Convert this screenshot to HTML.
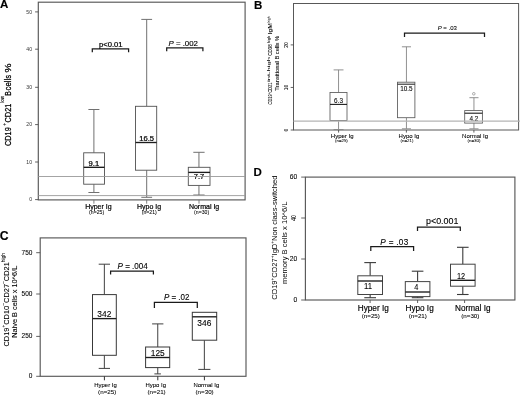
<!DOCTYPE html>
<html lang="en"><head><meta charset="utf-8"><title>Figure</title>
<style>
html,body{margin:0;padding:0;background:#fff;}
body{width:520px;height:398px;overflow:hidden;}
svg{display:block;font-family:"Liberation Sans",Arial,Helvetica,sans-serif;filter:blur(0.3px);}
</style></head><body>
<svg width="520" height="398" viewBox="0 0 520 398">
<rect x="0" y="0" width="520" height="398" fill="#ffffff"/>
<text x="0" y="8.2" font-size="11.5" text-anchor="start" font-weight="bold" fill="#000" stroke="#000" stroke-width="0.138">A</text>
<rect x="38.3" y="2.2" width="206.8" height="197.7" fill="none" stroke="#585858" stroke-width="1.15"/>
<line x1="35.099999999999994" y1="11.9" x2="38.3" y2="11.9" stroke="#505050" stroke-width="0.9"/>
<text x="32.0" y="13.700000000000001" font-size="5.1" text-anchor="end" fill="#333" stroke="#333" stroke-width="0.0">50</text>
<line x1="35.099999999999994" y1="49.2" x2="38.3" y2="49.2" stroke="#505050" stroke-width="0.9"/>
<text x="32.0" y="51.0" font-size="5.1" text-anchor="end" fill="#333" stroke="#333" stroke-width="0.0">40</text>
<line x1="35.099999999999994" y1="87.3" x2="38.3" y2="87.3" stroke="#505050" stroke-width="0.9"/>
<text x="32.0" y="89.1" font-size="5.1" text-anchor="end" fill="#333" stroke="#333" stroke-width="0.0">30</text>
<line x1="35.099999999999994" y1="124.6" x2="38.3" y2="124.6" stroke="#505050" stroke-width="0.9"/>
<text x="32.0" y="126.39999999999999" font-size="5.1" text-anchor="end" fill="#333" stroke="#333" stroke-width="0.0">20</text>
<line x1="35.099999999999994" y1="162.0" x2="38.3" y2="162.0" stroke="#505050" stroke-width="0.9"/>
<text x="32.0" y="163.8" font-size="5.1" text-anchor="end" fill="#333" stroke="#333" stroke-width="0.0">10</text>
<line x1="35.099999999999994" y1="199.6" x2="38.3" y2="199.6" stroke="#505050" stroke-width="0.9"/>
<text x="32.0" y="201.4" font-size="5.1" text-anchor="end" fill="#333" stroke="#333" stroke-width="0.0">0</text>
<line x1="93.9" y1="109.5" x2="93.9" y2="152.8" stroke="#707070" stroke-width="1.0"/>
<line x1="88.4" y1="109.5" x2="99.4" y2="109.5" stroke="#707070" stroke-width="1.0"/>
<line x1="93.9" y1="184.2" x2="93.9" y2="192.5" stroke="#707070" stroke-width="1.0"/>
<line x1="88.4" y1="192.5" x2="99.4" y2="192.5" stroke="#707070" stroke-width="1.0"/>
<rect x="83.7" y="152.8" width="20.8" height="31.4" fill="#fff" stroke="#505050" stroke-width="0.9"/>
<line x1="83.7" y1="167.3" x2="104.5" y2="167.3" stroke="#1c1c1c" stroke-width="1.35"/>
<text x="93.9" y="166.0" font-size="7.6" text-anchor="middle" fill="#000" stroke="#000" stroke-width="0.228">9.1</text>
<line x1="146.7" y1="19.4" x2="146.7" y2="106.3" stroke="#707070" stroke-width="1.0"/>
<line x1="141.3" y1="19.4" x2="152.1" y2="19.4" stroke="#707070" stroke-width="1.0"/>
<line x1="146.7" y1="170.2" x2="146.7" y2="197.3" stroke="#707070" stroke-width="1.0"/>
<line x1="141.3" y1="197.3" x2="152.1" y2="197.3" stroke="#707070" stroke-width="1.0"/>
<rect x="135.5" y="106.3" width="21.2" height="63.9" fill="#fff" stroke="#505050" stroke-width="0.9"/>
<line x1="135.5" y1="142.5" x2="156.7" y2="142.5" stroke="#1c1c1c" stroke-width="1.35"/>
<text x="146.7" y="141.0" font-size="7.6" text-anchor="middle" fill="#000" stroke="#000" stroke-width="0.228">16.5</text>
<line x1="198.95" y1="152.3" x2="198.95" y2="167.3" stroke="#707070" stroke-width="1.0"/>
<line x1="193.3" y1="152.3" x2="204.6" y2="152.3" stroke="#707070" stroke-width="1.0"/>
<line x1="198.95" y1="185.4" x2="198.95" y2="195.0" stroke="#707070" stroke-width="1.0"/>
<line x1="193.3" y1="195.0" x2="204.6" y2="195.0" stroke="#707070" stroke-width="1.0"/>
<rect x="188.3" y="167.3" width="21.7" height="18.1" fill="#fff" stroke="#505050" stroke-width="0.9"/>
<line x1="188.3" y1="172.4" x2="210.0" y2="172.4" stroke="#1c1c1c" stroke-width="1.35"/>
<text x="198.95" y="178.6" font-size="7.6" text-anchor="middle" fill="#000" stroke="#000" stroke-width="0.228">7.7</text>
<line x1="38.3" y1="176.5" x2="245.1" y2="176.5" stroke="#9a9a9a" stroke-width="0.9"/>
<line x1="38.3" y1="195.6" x2="245.1" y2="195.6" stroke="#9a9a9a" stroke-width="0.9"/>
<polyline points="92.3,52.3 92.3,48.9 128.6,48.9 128.6,52.3" fill="none" stroke="#1a1a1a" stroke-width="1.25"/>
<text x="110.8" y="46.5" font-size="7.6" text-anchor="middle" fill="#000" stroke="#000" stroke-width="0.228">p&lt;0.01</text>
<polyline points="166.7,51.2 166.7,47.9 202.9,47.9 202.9,51.2" fill="none" stroke="#1a1a1a" stroke-width="1.25"/>
<text x="183.2" y="45.8" font-size="8.1" text-anchor="middle" textLength="29.4" lengthAdjust="spacingAndGlyphs" fill="#000" stroke="#000" stroke-width="0.162"><tspan font-style="italic">P</tspan> = .002</text>
<line x1="93.9" y1="199.9" x2="93.9" y2="203.70000000000002" stroke="#707070" stroke-width="0.9"/>
<text x="98.4" y="209.0" font-size="7.0" text-anchor="middle" fill="#000" stroke="#000" stroke-width="0.21">Hyper Ig</text>
<text x="96.6" y="214.1" font-size="4.8" text-anchor="middle" textLength="15.0" lengthAdjust="spacingAndGlyphs" fill="#000" stroke="#000" stroke-width="0.058">(n=25)</text>
<line x1="146.7" y1="199.9" x2="146.7" y2="203.70000000000002" stroke="#707070" stroke-width="0.9"/>
<text x="149.1" y="209.0" font-size="7.0" text-anchor="middle" fill="#000" stroke="#000" stroke-width="0.21">Hypo Ig</text>
<text x="149.29999999999998" y="214.1" font-size="4.8" text-anchor="middle" textLength="15.0" lengthAdjust="spacingAndGlyphs" fill="#000" stroke="#000" stroke-width="0.058">(n=21)</text>
<line x1="199" y1="199.9" x2="199" y2="203.70000000000002" stroke="#707070" stroke-width="0.9"/>
<text x="204.1" y="209.0" font-size="7.0" text-anchor="middle" fill="#000" stroke="#000" stroke-width="0.21">Normal Ig</text>
<text x="201.6" y="214.1" font-size="4.8" text-anchor="middle" textLength="15.0" lengthAdjust="spacingAndGlyphs" fill="#000" stroke="#000" stroke-width="0.058">(n=30)</text>
<text x="11.2" y="146.0" font-size="9.5" text-anchor="start" transform="rotate(-90 11.2 146.0)" textLength="18.8" lengthAdjust="spacingAndGlyphs" fill="#000" stroke="#000" stroke-width="0.266">CD19</text>
<text x="6.4" y="125.7" font-size="5.7" text-anchor="start" transform="rotate(-90 6.4 125.7)" textLength="2.7" lengthAdjust="spacingAndGlyphs" fill="#000" stroke="#000" stroke-width="0.16">+</text>
<text x="11.2" y="122.4" font-size="9.5" text-anchor="start" transform="rotate(-90 11.2 122.4)" textLength="18.7" lengthAdjust="spacingAndGlyphs" fill="#000" stroke="#000" stroke-width="0.266">CD21</text>
<text x="4.4" y="102.8" font-size="5.4" text-anchor="start" transform="rotate(-90 4.4 102.8)" textLength="6.8" lengthAdjust="spacingAndGlyphs" fill="#000" stroke="#000" stroke-width="0.151">low</text>
<text x="11.2" y="95.7" font-size="9.5" text-anchor="start" transform="rotate(-90 11.2 95.7)" textLength="4.5" lengthAdjust="spacingAndGlyphs" fill="#000" stroke="#000" stroke-width="0.266">B</text>
<text x="11.2" y="90.4" font-size="9.5" text-anchor="start" transform="rotate(-90 11.2 90.4)" textLength="15.4" lengthAdjust="spacingAndGlyphs" fill="#000" stroke="#000" stroke-width="0.266">cells</text>
<text x="11.2" y="72.6" font-size="9.5" text-anchor="start" transform="rotate(-90 11.2 72.6)" textLength="9.1" lengthAdjust="spacingAndGlyphs" fill="#000" stroke="#000" stroke-width="0.266">%</text>
<text x="253.9" y="9.3" font-size="11.5" text-anchor="start" font-weight="bold" fill="#000" stroke="#000" stroke-width="0.138">B</text>
<rect x="293.5" y="3.5" width="225.1" height="126.5" fill="none" stroke="#585858" stroke-width="1.0"/>
<line x1="290.7" y1="44.9" x2="293.5" y2="44.9" stroke="#505050" stroke-width="0.9"/>
<text x="288.3" y="44.9" font-size="5.0" text-anchor="middle" transform="rotate(-90 288.3 44.9)" fill="#000" stroke="#000" stroke-width="0.06">20</text>
<line x1="290.7" y1="87.45" x2="293.5" y2="87.45" stroke="#505050" stroke-width="0.9"/>
<text x="288.3" y="87.45" font-size="5.0" text-anchor="middle" transform="rotate(-90 288.3 87.45)" fill="#000" stroke="#000" stroke-width="0.06">10</text>
<line x1="290.7" y1="130.0" x2="293.5" y2="130.0" stroke="#505050" stroke-width="0.9"/>
<text x="288.3" y="130.0" font-size="5.0" text-anchor="middle" transform="rotate(-90 288.3 130.0)" fill="#000" stroke="#000" stroke-width="0.06">0</text>
<line x1="338.55" y1="69.9" x2="338.55" y2="92.5" stroke="#858585" stroke-width="0.9"/>
<line x1="333.6" y1="69.9" x2="343.5" y2="69.9" stroke="#858585" stroke-width="0.9"/>
<line x1="338.55" y1="120.5" x2="338.55" y2="129.6" stroke="#858585" stroke-width="0.9"/>
<line x1="333.6" y1="129.6" x2="343.5" y2="129.6" stroke="#858585" stroke-width="0.9"/>
<rect x="330.0" y="92.5" width="17.0" height="28.0" fill="#fff" stroke="#5a5a5a" stroke-width="0.85"/>
<line x1="330.0" y1="104.4" x2="347.0" y2="104.4" stroke="#1c1c1c" stroke-width="1.1"/>
<text x="338.55" y="102.9" font-size="6.4" text-anchor="middle" fill="#000" stroke="#000" stroke-width="0.077">6.3</text>
<line x1="406.45" y1="46.8" x2="406.45" y2="82.2" stroke="#858585" stroke-width="0.9"/>
<line x1="401.9" y1="46.8" x2="411.0" y2="46.8" stroke="#858585" stroke-width="0.9"/>
<line x1="406.45" y1="117.7" x2="406.45" y2="128.8" stroke="#858585" stroke-width="0.9"/>
<line x1="401.9" y1="128.8" x2="411.0" y2="128.8" stroke="#858585" stroke-width="0.9"/>
<rect x="397.5" y="82.2" width="17.4" height="35.5" fill="#fff" stroke="#5a5a5a" stroke-width="0.85"/>
<line x1="397.5" y1="84.2" x2="414.9" y2="84.2" stroke="#1c1c1c" stroke-width="1.0"/>
<text x="406.45" y="90.6" font-size="6.4" text-anchor="middle" fill="#000" stroke="#000" stroke-width="0.077">10.5</text>
<line x1="473.95" y1="97.7" x2="473.95" y2="110.6" stroke="#858585" stroke-width="0.9"/>
<line x1="469.4" y1="97.7" x2="478.5" y2="97.7" stroke="#858585" stroke-width="0.9"/>
<line x1="473.95" y1="123.1" x2="473.95" y2="128.8" stroke="#858585" stroke-width="0.9"/>
<line x1="469.4" y1="128.8" x2="478.5" y2="128.8" stroke="#858585" stroke-width="0.9"/>
<rect x="464.7" y="110.6" width="17.7" height="12.5" fill="#fff" stroke="#5a5a5a" stroke-width="0.85"/>
<line x1="464.7" y1="113.2" x2="482.4" y2="113.2" stroke="#1c1c1c" stroke-width="1.1"/>
<text x="473.95" y="121.2" font-size="6.4" text-anchor="middle" fill="#000" stroke="#000" stroke-width="0.077">4.2</text>
<circle cx="473.8" cy="93.8" r="1.3" fill="none" stroke="#777" stroke-width="0.6"/>
<line x1="293.5" y1="121.2" x2="520" y2="121.2" stroke="#b4b4b4" stroke-width="1.3"/>
<polyline points="404.5,36.9 404.5,33.2 484.5,33.2 484.5,36.9" fill="none" stroke="#1a1a1a" stroke-width="1.25"/>
<text x="447.3" y="30.4" font-size="6.0" text-anchor="middle" fill="#000" stroke="#000" stroke-width="0.072"><tspan font-style="italic">P</tspan> = .03</text>
<line x1="338.6" y1="130.0" x2="338.6" y2="132.6" stroke="#505050" stroke-width="0.9"/>
<text x="342.2" y="138.2" font-size="6.0" text-anchor="middle" fill="#000" stroke="#000" stroke-width="0.072">Hyper Ig</text>
<text x="341.4" y="142.0" font-size="4.4" text-anchor="middle" fill="#000" stroke="#000" stroke-width="0.053">(n=25)</text>
<line x1="406.4" y1="130.0" x2="406.4" y2="132.6" stroke="#505050" stroke-width="0.9"/>
<text x="408.9" y="138.2" font-size="6.0" text-anchor="middle" fill="#000" stroke="#000" stroke-width="0.072">Hypo Ig</text>
<text x="407" y="142.0" font-size="4.4" text-anchor="middle" fill="#000" stroke="#000" stroke-width="0.053">(n=21)</text>
<line x1="473.9" y1="130.0" x2="473.9" y2="132.6" stroke="#505050" stroke-width="0.9"/>
<text x="475.1" y="138.2" font-size="6.0" text-anchor="middle" fill="#000" stroke="#000" stroke-width="0.072">Normal Ig</text>
<text x="474" y="142.0" font-size="4.4" text-anchor="middle" fill="#000" stroke="#000" stroke-width="0.053">(n=30)</text>
<text x="271.8" y="104.5" font-size="6.0" text-anchor="start" transform="rotate(-90 271.8 104.5)" textLength="10.2" lengthAdjust="spacingAndGlyphs" fill="#000" stroke="#000" stroke-width="0.072">CD19</text>
<text x="270.2" y="94.1" font-size="4.2" text-anchor="start" transform="rotate(-90 270.2 94.1)" textLength="1.3" lengthAdjust="spacingAndGlyphs" fill="#000" stroke="#000" stroke-width="0.05">+</text>
<text x="271.8" y="92.6" font-size="6.0" text-anchor="start" transform="rotate(-90 271.8 92.6)" textLength="10.0" lengthAdjust="spacingAndGlyphs" fill="#000" stroke="#000" stroke-width="0.072">CD21</text>
<text x="270.2" y="82.0" font-size="4.2" text-anchor="start" transform="rotate(-90 270.2 82.0)" textLength="25.0" lengthAdjust="spacingAndGlyphs" fill="#000" stroke="#000" stroke-width="0.05">int-high</text>
<text x="271.8" y="55.8" font-size="6.0" text-anchor="start" transform="rotate(-90 271.8 55.8)" textLength="11.6" lengthAdjust="spacingAndGlyphs" fill="#000" stroke="#000" stroke-width="0.072">CD38</text>
<text x="270.2" y="43.2" font-size="4.2" text-anchor="start" transform="rotate(-90 270.2 43.2)" textLength="7.4" lengthAdjust="spacingAndGlyphs" fill="#000" stroke="#000" stroke-width="0.05">high</text>
<text x="271.8" y="34.5" font-size="6.0" text-anchor="start" transform="rotate(-90 271.8 34.5)" textLength="11.3" lengthAdjust="spacingAndGlyphs" fill="#000" stroke="#000" stroke-width="0.072">IgM</text>
<text x="270.2" y="22.6" font-size="4.2" text-anchor="start" transform="rotate(-90 270.2 22.6)" textLength="6.1" lengthAdjust="spacingAndGlyphs" fill="#000" stroke="#000" stroke-width="0.05">high</text>
<text x="279.0" y="90.7" font-size="5.8" text-anchor="start" transform="rotate(-90 279.0 90.7)" textLength="54.8" lengthAdjust="spacingAndGlyphs" fill="#000" stroke="#000" stroke-width="0.07">Transitional B cells %</text>
<text x="-0.2" y="240.3" font-size="12.2" text-anchor="start" font-weight="bold" fill="#000" stroke="#000" stroke-width="0.146">C</text>
<rect x="40.2" y="237.9" width="205.8" height="138.4" fill="none" stroke="#585858" stroke-width="1.15"/>
<line x1="36.2" y1="252.7" x2="40.2" y2="252.7" stroke="#505050" stroke-width="0.9"/>
<text x="32.4" y="254.6" font-size="6.5" text-anchor="end" fill="#000" stroke="#000" stroke-width="0.078">750</text>
<line x1="36.2" y1="294.0" x2="40.2" y2="294.0" stroke="#505050" stroke-width="0.9"/>
<text x="32.4" y="295.9" font-size="6.5" text-anchor="end" fill="#000" stroke="#000" stroke-width="0.078">500</text>
<line x1="36.2" y1="336.4" x2="40.2" y2="336.4" stroke="#505050" stroke-width="0.9"/>
<text x="32.4" y="338.29999999999995" font-size="6.5" text-anchor="end" fill="#000" stroke="#000" stroke-width="0.078">250</text>
<line x1="36.2" y1="376.3" x2="40.2" y2="376.3" stroke="#505050" stroke-width="0.9"/>
<text x="32.4" y="378.2" font-size="6.5" text-anchor="end" fill="#000" stroke="#000" stroke-width="0.078">0</text>
<line x1="104.35" y1="264.2" x2="104.35" y2="294.6" stroke="#404040" stroke-width="1.0"/>
<line x1="98.7" y1="264.2" x2="110.0" y2="264.2" stroke="#404040" stroke-width="1.0"/>
<line x1="104.35" y1="355.3" x2="104.35" y2="368.4" stroke="#404040" stroke-width="1.0"/>
<line x1="98.7" y1="368.4" x2="110.0" y2="368.4" stroke="#404040" stroke-width="1.0"/>
<rect x="92.5" y="294.6" width="23.8" height="60.7" fill="#fff" stroke="#383838" stroke-width="1.0"/>
<line x1="92.5" y1="318.6" x2="116.3" y2="318.6" stroke="#1c1c1c" stroke-width="1.35"/>
<text x="104.35" y="316.8" font-size="8.4" text-anchor="middle" fill="#000" stroke="#000" stroke-width="0.101">342</text>
<line x1="157.75" y1="323.9" x2="157.75" y2="347.0" stroke="#404040" stroke-width="1.0"/>
<line x1="152.1" y1="323.9" x2="163.4" y2="323.9" stroke="#404040" stroke-width="1.0"/>
<line x1="157.75" y1="367.6" x2="157.75" y2="373.9" stroke="#404040" stroke-width="1.0"/>
<line x1="154.4" y1="373.9" x2="160.9" y2="373.9" stroke="#404040" stroke-width="1.0"/>
<rect x="145.6" y="347.0" width="24.1" height="20.6" fill="#fff" stroke="#383838" stroke-width="1.0"/>
<line x1="145.6" y1="357.5" x2="169.7" y2="357.5" stroke="#1c1c1c" stroke-width="1.35"/>
<text x="157.75" y="356.2" font-size="8.4" text-anchor="middle" fill="#000" stroke="#000" stroke-width="0.101">125</text>
<line x1="204.35" y1="340.2" x2="204.35" y2="369.4" stroke="#404040" stroke-width="1.0"/>
<line x1="198.3" y1="369.4" x2="210.4" y2="369.4" stroke="#404040" stroke-width="1.0"/>
<rect x="192.3" y="312.3" width="24.4" height="27.9" fill="#fff" stroke="#383838" stroke-width="1.0"/>
<line x1="192.3" y1="316.8" x2="216.7" y2="316.8" stroke="#1c1c1c" stroke-width="1.35"/>
<text x="204.35" y="325.6" font-size="8.4" text-anchor="middle" fill="#000" stroke="#000" stroke-width="0.101">346</text>
<polyline points="110.6,274.6 110.6,271.0 153.4,271.0 153.4,274.6" fill="none" stroke="#1a1a1a" stroke-width="1.25"/>
<text x="132.7" y="268.5" font-size="8.6" text-anchor="middle" textLength="30.3" lengthAdjust="spacingAndGlyphs" fill="#000" stroke="#000" stroke-width="0.103"><tspan font-style="italic">P</tspan> = .004</text>
<polyline points="154.4,308.0 154.4,302.4 197.3,302.4 197.3,308.0" fill="none" stroke="#1a1a1a" stroke-width="1.25"/>
<text x="176.7" y="299.8" font-size="8.6" text-anchor="middle" textLength="25.6" lengthAdjust="spacingAndGlyphs" fill="#000" stroke="#000" stroke-width="0.103"><tspan font-style="italic">P</tspan> = .02</text>
<line x1="104.4" y1="376.3" x2="104.4" y2="380.3" stroke="#333" stroke-width="1.0"/>
<text x="105.5" y="387.2" font-size="5.95" text-anchor="middle" fill="#000" stroke="#000" stroke-width="0.071">Hyper Ig</text>
<text x="107.2" y="393.7" font-size="5.6" text-anchor="middle" textLength="18.2" lengthAdjust="spacingAndGlyphs" fill="#000" stroke="#000" stroke-width="0.067">(n=25)</text>
<line x1="157.8" y1="376.3" x2="157.8" y2="380.3" stroke="#333" stroke-width="1.0"/>
<text x="155.8" y="387.2" font-size="5.95" text-anchor="middle" fill="#000" stroke="#000" stroke-width="0.071">Hypo Ig</text>
<text x="156.6" y="393.7" font-size="5.6" text-anchor="middle" textLength="18.2" lengthAdjust="spacingAndGlyphs" fill="#000" stroke="#000" stroke-width="0.067">(n=21)</text>
<line x1="204.4" y1="376.3" x2="204.4" y2="380.3" stroke="#333" stroke-width="1.0"/>
<text x="206.4" y="387.2" font-size="5.95" text-anchor="middle" fill="#000" stroke="#000" stroke-width="0.071">Normal Ig</text>
<text x="204.6" y="393.7" font-size="5.6" text-anchor="middle" textLength="18.2" lengthAdjust="spacingAndGlyphs" fill="#000" stroke="#000" stroke-width="0.067">(n=30)</text>
<text x="8.8" y="346.6" font-size="8.0" text-anchor="start" transform="rotate(-90 8.8 346.6)" textLength="19.0" lengthAdjust="spacingAndGlyphs" fill="#000" stroke="#000" stroke-width="0.096">CD19</text>
<text x="5.4" y="327.6" font-size="5.2" text-anchor="start" transform="rotate(-90 5.4 327.6)" textLength="2.82" lengthAdjust="spacingAndGlyphs" fill="#000" stroke="#000" stroke-width="0.062">+</text>
<text x="8.8" y="324.78" font-size="8.0" text-anchor="start" transform="rotate(-90 8.8 324.78)" textLength="19.0" lengthAdjust="spacingAndGlyphs" fill="#000" stroke="#000" stroke-width="0.096">CD10</text>
<text x="5.4" y="305.78" font-size="5.2" text-anchor="start" transform="rotate(-90 5.4 305.78)" textLength="2.82" lengthAdjust="spacingAndGlyphs" fill="#000" stroke="#000" stroke-width="0.062">−</text>
<text x="8.8" y="302.96" font-size="8.0" text-anchor="start" transform="rotate(-90 8.8 302.96)" textLength="19.0" lengthAdjust="spacingAndGlyphs" fill="#000" stroke="#000" stroke-width="0.096">CD27</text>
<text x="5.4" y="283.96" font-size="5.2" text-anchor="start" transform="rotate(-90 5.4 283.96)" textLength="2.82" lengthAdjust="spacingAndGlyphs" fill="#000" stroke="#000" stroke-width="0.062">−</text>
<text x="8.8" y="281.14" font-size="8.0" text-anchor="start" transform="rotate(-90 8.8 281.14)" textLength="19.0" lengthAdjust="spacingAndGlyphs" fill="#000" stroke="#000" stroke-width="0.096">CD21</text>
<text x="5.4" y="262.14" font-size="5.2" text-anchor="start" transform="rotate(-90 5.4 262.14)" textLength="9.13" lengthAdjust="spacingAndGlyphs" fill="#000" stroke="#000" stroke-width="0.062">high</text>
<text x="17.4" y="337.8" font-size="7.4" text-anchor="start" transform="rotate(-90 17.4 337.8)" textLength="72.1" lengthAdjust="spacingAndGlyphs" fill="#000" stroke="#000" stroke-width="0.089">Naive B cells x 10^6/L</text>
<text x="253.6" y="176.2" font-size="11.5" text-anchor="start" font-weight="bold" fill="#000" stroke="#000" stroke-width="0.138">D</text>
<rect x="305.4" y="177.1" width="209.5" height="122.9" fill="none" stroke="#585858" stroke-width="1.15"/>
<line x1="301.2" y1="177.1" x2="305.4" y2="177.1" stroke="#505050" stroke-width="0.9"/>
<text x="297.3" y="179.45" font-size="6.7" text-anchor="end" fill="#000" stroke="#000" stroke-width="0.08">60</text>
<line x1="301.2" y1="218.0" x2="305.4" y2="218.0" stroke="#505050" stroke-width="0.9"/>
<text x="295.9" y="218.0" font-size="6.7" text-anchor="middle" transform="rotate(-90 295.9 218.0)" textLength="5.6" lengthAdjust="spacingAndGlyphs" fill="#000" stroke="#000" stroke-width="0.08">40</text>
<line x1="301.2" y1="259.0" x2="305.4" y2="259.0" stroke="#505050" stroke-width="0.9"/>
<text x="297.3" y="261.35" font-size="6.7" text-anchor="end" fill="#000" stroke="#000" stroke-width="0.08">20</text>
<line x1="301.2" y1="300.0" x2="305.4" y2="300.0" stroke="#505050" stroke-width="0.9"/>
<text x="297.3" y="302.35" font-size="6.7" text-anchor="end" fill="#000" stroke="#000" stroke-width="0.08">0</text>
<line x1="370.15" y1="262.6" x2="370.15" y2="275.8" stroke="#3a3a3a" stroke-width="1.1"/>
<line x1="364.3" y1="262.6" x2="376.0" y2="262.6" stroke="#3a3a3a" stroke-width="1.1"/>
<line x1="370.15" y1="294.5" x2="370.15" y2="297.7" stroke="#3a3a3a" stroke-width="1.1"/>
<line x1="364.3" y1="297.7" x2="376.0" y2="297.7" stroke="#3a3a3a" stroke-width="1.1"/>
<rect x="357.8" y="275.8" width="24.7" height="18.7" fill="#fff" stroke="#444444" stroke-width="1.0"/>
<line x1="357.8" y1="281.0" x2="382.5" y2="281.0" stroke="#1c1c1c" stroke-width="1.35"/>
<text x="368.0" y="289.2" font-size="8.2" text-anchor="middle" textLength="8.0" lengthAdjust="spacingAndGlyphs" fill="#000" stroke="#000" stroke-width="0.098">11</text>
<line x1="417.6" y1="271.2" x2="417.6" y2="281.6" stroke="#3a3a3a" stroke-width="1.1"/>
<line x1="411.8" y1="271.2" x2="423.4" y2="271.2" stroke="#3a3a3a" stroke-width="1.1"/>
<line x1="417.6" y1="296.6" x2="417.6" y2="297.7" stroke="#3a3a3a" stroke-width="1.1"/>
<line x1="411.8" y1="297.7" x2="423.4" y2="297.7" stroke="#3a3a3a" stroke-width="1.1"/>
<rect x="405.3" y="281.6" width="24.6" height="15.0" fill="#fff" stroke="#444444" stroke-width="1.0"/>
<line x1="405.3" y1="292.0" x2="429.9" y2="292.0" stroke="#1c1c1c" stroke-width="1.35"/>
<text x="416.2" y="289.8" font-size="8.2" text-anchor="middle" textLength="4.1" lengthAdjust="spacingAndGlyphs" fill="#000" stroke="#000" stroke-width="0.098">4</text>
<line x1="462.8" y1="247.3" x2="462.8" y2="264.2" stroke="#3a3a3a" stroke-width="1.1"/>
<line x1="457.0" y1="247.3" x2="468.6" y2="247.3" stroke="#3a3a3a" stroke-width="1.1"/>
<line x1="462.8" y1="286.2" x2="462.8" y2="294.5" stroke="#3a3a3a" stroke-width="1.1"/>
<line x1="457.0" y1="294.5" x2="468.6" y2="294.5" stroke="#3a3a3a" stroke-width="1.1"/>
<rect x="450.5" y="264.2" width="24.6" height="22.0" fill="#fff" stroke="#444444" stroke-width="1.0"/>
<line x1="450.5" y1="280.3" x2="475.1" y2="280.3" stroke="#1c1c1c" stroke-width="1.35"/>
<text x="461.1" y="278.7" font-size="8.2" text-anchor="middle" textLength="8.2" lengthAdjust="spacingAndGlyphs" fill="#000" stroke="#000" stroke-width="0.098">12</text>
<polyline points="370.8,251.0 370.8,246.7 413.6,246.7 413.6,251.0" fill="none" stroke="#1a1a1a" stroke-width="1.25"/>
<text x="394.3" y="245.2" font-size="8.2" text-anchor="middle" textLength="27.9" lengthAdjust="spacing" fill="#000" stroke="#000" stroke-width="0.098"><tspan font-style="italic">P</tspan> = .03</text>
<polyline points="417.5,231.0 417.5,227.0 460.3,227.0 460.3,231.0" fill="none" stroke="#1a1a1a" stroke-width="1.25"/>
<text x="442.2" y="223.8" font-size="8.9" text-anchor="middle" fill="#000" stroke="#000" stroke-width="0.107">p&lt;0.001</text>
<line x1="370.1" y1="300.0" x2="370.1" y2="303.0" stroke="#505050" stroke-width="0.9"/>
<text x="373.3" y="310.8" font-size="8.2" text-anchor="middle" fill="#000" stroke="#000" stroke-width="0.164">Hyper Ig</text>
<text x="370.8" y="318.3" font-size="6.2" text-anchor="middle" fill="#000" stroke="#000" stroke-width="0.074">(n=25)</text>
<line x1="417.6" y1="300.0" x2="417.6" y2="303.0" stroke="#505050" stroke-width="0.9"/>
<text x="419.6" y="310.8" font-size="8.2" text-anchor="middle" fill="#000" stroke="#000" stroke-width="0.164">Hypo Ig</text>
<text x="417.8" y="318.3" font-size="6.2" text-anchor="middle" fill="#000" stroke="#000" stroke-width="0.074">(n=21)</text>
<line x1="464.6" y1="300.0" x2="464.6" y2="303.0" stroke="#505050" stroke-width="0.9"/>
<text x="472.8" y="310.8" font-size="8.2" text-anchor="middle" fill="#000" stroke="#000" stroke-width="0.164">Normal Ig</text>
<text x="470.3" y="318.3" font-size="6.2" text-anchor="middle" fill="#000" stroke="#000" stroke-width="0.074">(n=30)</text>
<text x="277.2" y="299.8" font-size="7.4" text-anchor="start" transform="rotate(-90 277.2 299.8)" textLength="19.41" lengthAdjust="spacingAndGlyphs" fill="#000" stroke="#000" stroke-width="0.0">CD19</text>
<text x="274.0" y="280.39" font-size="4.6" text-anchor="start" transform="rotate(-90 274.0 280.39)" textLength="2.76" lengthAdjust="spacingAndGlyphs" fill="#000" stroke="#000" stroke-width="0.0">+</text>
<text x="277.2" y="277.63" font-size="7.4" text-anchor="start" transform="rotate(-90 277.2 277.63)" textLength="19.41" lengthAdjust="spacingAndGlyphs" fill="#000" stroke="#000" stroke-width="0.0">CD27</text>
<text x="274.0" y="258.22" font-size="4.6" text-anchor="start" transform="rotate(-90 274.0 258.22)" textLength="2.76" lengthAdjust="spacingAndGlyphs" fill="#000" stroke="#000" stroke-width="0.0">+</text>
<text x="277.2" y="255.46" font-size="7.4" text-anchor="start" transform="rotate(-90 277.2 255.46)" textLength="11.81" lengthAdjust="spacingAndGlyphs" fill="#000" stroke="#000" stroke-width="0.0">IgD</text>
<text x="274.0" y="243.65" font-size="4.6" text-anchor="start" transform="rotate(-90 274.0 243.65)" textLength="2.76" lengthAdjust="spacingAndGlyphs" fill="#000" stroke="#000" stroke-width="0.0">+</text>
<text x="277.2" y="240.89" font-size="7.4" text-anchor="start" transform="rotate(-90 277.2 240.89)" textLength="65.4" lengthAdjust="spacingAndGlyphs" fill="#000" stroke="#000" stroke-width="0.0">Non class-switched</text>
<text x="286.8" y="284.0" font-size="7.4" text-anchor="start" transform="rotate(-90 286.8 284.0)" textLength="82.5" lengthAdjust="spacingAndGlyphs" fill="#000" stroke="#000" stroke-width="0.0">memory B cells x 10^6/L</text>
</svg>
</body></html>
